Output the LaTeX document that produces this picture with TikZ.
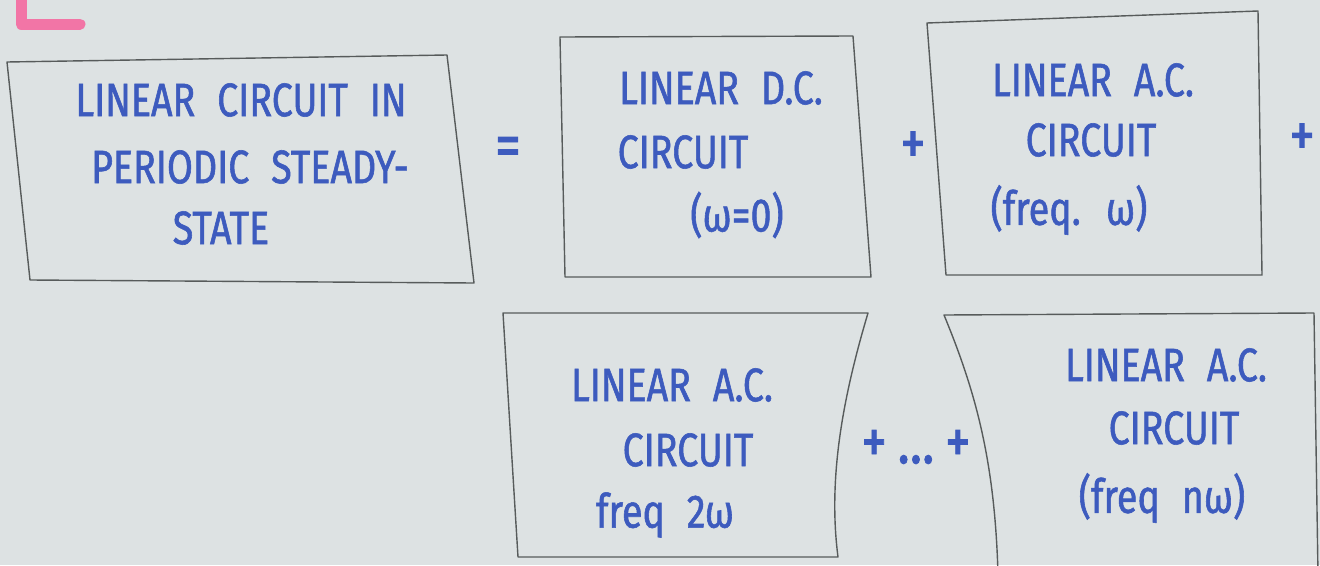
\documentclass[tikz,border=0pt]{standalone}
\usepackage{fontspec}
\setmainfont{Fira Sans}[FakeStretch=0.8, WordSpace=2.2, FakeBold=1.2]
\definecolor{paper}{HTML}{DDE2E3}
\definecolor{ink}{HTML}{3D5BBE}
\definecolor{pencil}{HTML}{575B5B}
\definecolor{marker}{HTML}{F275A6}
\tikzset{
  frame/.style={draw=pencil, line width=1.4pt, line join=round},
  word/.style={text=ink, font=\fontsize{47}{50}\selectfont, inner sep=0pt, anchor=center},
  op/.style={text=ink, font=\fontsize{64}{68}\selectfont, inner sep=0pt, anchor=center}
}
\begin{document}
\begin{tikzpicture}[x=1pt, y=-1pt]
  \useasboundingbox (0,0) rectangle (1320,565);
  \clip (0,0) rectangle (1320,565);
  \fill[paper] (0,0) rectangle (1320,565);

  % pink highlighter mark in the corner
  \draw[marker, line width=11pt, line cap=round, line join=round] (21,-5) -- (21,24) -- (80,24);

  % sketched boxes
  \draw[frame] (7,62) -- (447,55) -- (474,283) -- (30,280) -- cycle;
  \draw[frame] (560,37) -- (853,36) -- (871,277) -- (565,277) -- cycle;
  \draw[frame] (927,23) -- (1258,11) -- (1262,275) -- (946,275) -- cycle;
  \draw[frame] (503,313) -- (868,313) .. controls (842,400) and (828,480) .. (838,557) -- (518,557) -- cycle;
  \draw[frame] (998,575) .. controls (995,460) and (975,390) .. (944,315) -- (1314,313) -- (1318,575);

  % periodic steady-state circuit
  \node[word] (p1) at (241,100) {LINEAR CIRCUIT IN};
  \node[word] (p2) at (250,167) {PERIODIC STEADY-};
  \node[word] (p3) at (221,228) {STATE};

  % d.c. part
  \node[word] (d1) at (721,88) {LINEAR D.C.};
  \node[word] (d2) at (683,152) {CIRCUIT};
  \node[word] (d3) at (737,215) {(ω=0)};

  % first harmonic
  \node[word] (a1) at (1093,80) {LINEAR A.C.};
  \node[word] (a2) at (1091,140) {CIRCUIT};
  \node[word] (a3) at (1069,210) {(freq. ω)};

  % second harmonic
  \node[word] (b1) at (672,385) {LINEAR A.C.};
  \node[word] (b2) at (688,450) {CIRCUIT};
  \node[word] (b3) at (665,515) {freq 2ω};

  % n-th harmonic
  \node[word] (n1) at (1166,365) {LINEAR A.C.};
  \node[word] (n2) at (1174,428) {CIRCUIT};
  \node[word] (n3) at (1162,498) {(freq nω)};

  % operators between the boxes
  \node[op] (eq) at (508,152) {=};
  \node[op] (plusA) at (913,148) {+};
  \node[op] (plusB) at (1302,140) {+};
  \node[op] (dots) at (916,447) {+\,...\,+};
\end{tikzpicture}
\end{document}
